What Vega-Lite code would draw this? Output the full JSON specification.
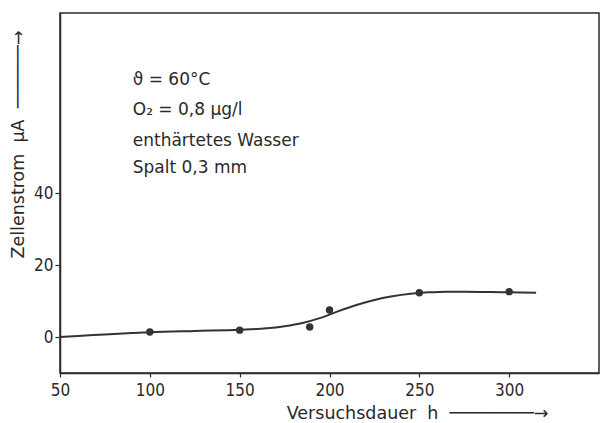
{
  "$schema": "https://vega.github.io/schema/vega-lite/v6.json",
  "width": 539,
  "height": 360,
  "autosize": "none",
  "padding": {"left": 60, "top": 13, "right": 3, "bottom": 50},
  "background": "white",
  "config": {
    "font": "DejaVu Sans",
    "view": {"stroke": "#2a2a2a", "strokeWidth": 1.5},
    "axis": {"grid": false, "domainColor": "#2a2a2a", "domainWidth": 1.5, "tickColor": "#2a2a2a", "tickWidth": 1.2, "labelColor": "#2a2a2a", "titleColor": "#2a2a2a", "labelFont": "DejaVu Sans Condensed", "titleFont": "DejaVu Sans", "labelFontWeight": "normal", "titleFontWeight": "normal", "labelFlush": false}
  },
  "datasets": {
    "curve": [
      {"h": 50, "uA": 0},
      {"h": 60, "uA": 0.3},
      {"h": 75, "uA": 0.7},
      {"h": 90, "uA": 1.1},
      {"h": 100, "uA": 1.35},
      {"h": 125, "uA": 1.7},
      {"h": 150, "uA": 2.0},
      {"h": 165, "uA": 2.4},
      {"h": 175, "uA": 3.0},
      {"h": 185, "uA": 3.9},
      {"h": 195, "uA": 5.3},
      {"h": 205, "uA": 7.2},
      {"h": 215, "uA": 8.9},
      {"h": 225, "uA": 10.3},
      {"h": 235, "uA": 11.3},
      {"h": 245, "uA": 12.0},
      {"h": 255, "uA": 12.4},
      {"h": 265, "uA": 12.6},
      {"h": 275, "uA": 12.6},
      {"h": 290, "uA": 12.5},
      {"h": 300, "uA": 12.4},
      {"h": 315, "uA": 12.3}
    ],
    "points": [
      {"h": 100, "uA": 1.4},
      {"h": 150, "uA": 1.9},
      {"h": 189, "uA": 2.8},
      {"h": 200, "uA": 7.5},
      {"h": 250, "uA": 12.3},
      {"h": 300, "uA": 12.6}
    ],
    "notes": [
      {"h": 90.5, "uA": 71.4, "label": "ϑ = 60°C"},
      {"h": 90.5, "uA": 63.0, "label": "O₂ =  0,8 µg/l"},
      {"h": 90.5, "uA": 54.5, "label": "enthärtetes Wasser"},
      {"h": 90.5, "uA": 47.0, "label": "Spalt 0,3 mm"}
    ]
  },
  "layer": [
    {
      "data": {"name": "curve"},
      "mark": {"type": "line", "interpolate": "monotone", "color": "#333333", "strokeWidth": 2},
      "encoding": {
        "x": {"field": "h", "type": "quantitative", "scale": {"domain": [50, 350], "nice": false, "zero": false},
          "axis": {"values": [50, 100, 150, 200, 250, 300], "labelFontSize": 17, "tickSize": 4, "labelPadding": 5, "title": "Versuchsdauer\u00a0\u00a0h\u00a0\u00a0────────→", "titleFontSize": 17.5, "titleAlign": "right", "titleAnchor": "start", "titleX": 488, "titleY": 40, "titleBaseline": "middle"}},
        "y": {"field": "uA", "type": "quantitative", "scale": {"domain": [-10, 90], "nice": false, "zero": false},
          "axis": {"values": [0, 20, 40], "labelFontSize": 17, "tickSize": 5, "labelPadding": 2, "title": "Zellenstrom\u00a0\u00a0µA\u00a0\u00a0──────→", "titleFontSize": 17.5, "titleAngle": -90, "titleAlign": "center", "titleAnchor": "start", "titleX": -42, "titleY": 131, "titleBaseline": "middle"}}
      }
    },
    {
      "data": {"name": "points"},
      "mark": {"type": "point", "filled": true, "color": "#333333", "size": 55, "opacity": 1},
      "encoding": {
        "x": {"field": "h", "type": "quantitative"},
        "y": {"field": "uA", "type": "quantitative"}
      }
    },
    {
      "data": {"name": "notes"},
      "mark": {"type": "text", "align": "left", "baseline": "middle", "fontSize": 17, "color": "#2a2a2a", "font": "DejaVu Sans"},
      "encoding": {
        "x": {"field": "h", "type": "quantitative"},
        "y": {"field": "uA", "type": "quantitative"},
        "text": {"field": "label"}
      }
    }
  ]
}
